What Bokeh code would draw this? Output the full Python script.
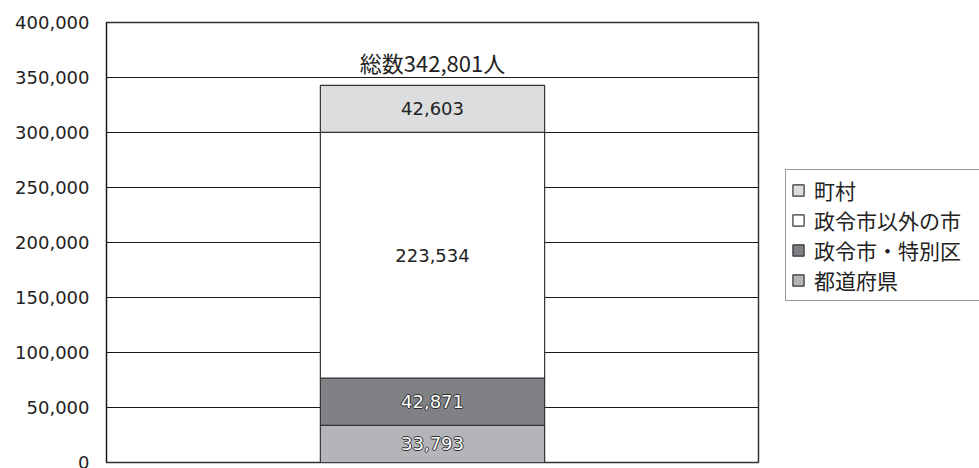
from bokeh.plotting import figure
from bokeh.layouts import row
from bokeh.models import Range1d, FixedTicker, NumeralTickFormatter, Legend, LegendItem, ColumnDataSource
from bokeh.core.properties import value
from bokeh.embed import file_html
from bokeh.resources import INLINE

categories = ["総数"]
series_names = ["都道府県", "政令市・特別区", "政令市以外の市", "町村"]
series_values = [33793, 42871, 223534, 42603]
series_colors = ["#b4b5b9", "#808185", "#ffffff", "#dcdddf"]
outlined = [True, True, False, False]
total_label = "総数342,801人"
total_value = 342801
y_ticks = [0, 50000, 100000, 150000, 200000, 250000, 300000, 350000, 400000]

p = figure(width=760, height=468, x_range=categories, y_range=Range1d(0, 400000),
           output_backend="svg", toolbar_location=None,
           min_border_left=106, min_border_right=2, min_border_top=22, min_border_bottom=6)
p.xaxis.visible = False
p.xgrid.visible = False
p.ygrid.grid_line_color = "#1a1a1a"
p.ygrid.grid_line_width = 1
p.ygrid.ticker = FixedTicker(ticks=y_ticks)
p.yaxis.ticker = FixedTicker(ticks=y_ticks)
p.yaxis.formatter = NumeralTickFormatter(format="0,0")
p.yaxis.major_tick_in = 0
p.yaxis.major_tick_out = 0
p.yaxis.minor_tick_in = 0
p.yaxis.minor_tick_out = 0
p.yaxis.major_label_standoff = 17
p.yaxis.major_label_text_font = "DejaVu Sans"
p.yaxis.major_label_text_font_size = "18px"
p.yaxis.major_label_text_color = "#222222"
p.yaxis.axis_line_color = "#111111"
p.outline_line_color = "#333333"
p.outline_line_width = 1.5

data = {"x": categories}
for name, v in zip(series_names, series_values):
    data[name] = [v]
src = ColumnDataSource(data)
rs = p.vbar_stack(series_names, x="x", width=0.344, source=src,
                  fill_color=series_colors, line_color="#333333", line_width=1.2)

# segment labels
lab_font = value("DejaVu Sans")
lab_size = "18px"
bottom = 0
for name, v, out in zip(series_names, series_values, outlined):
    mid = bottom + v / 2
    bottom += v
    txt = f"{v:,}"
    if out:
        for dx, dy in [(-1, 0), (1, 0), (0, -1), (0, 1)]:
            p.text(x=[categories[0]], y=[mid], text=[txt], x_offset=dx, y_offset=dy,
                   text_align="center", text_baseline="middle", text_color="#2a2a2a",
                   text_font=lab_font, text_font_size=lab_size)
        p.text(x=[categories[0]], y=[mid], text=[txt], text_align="center", text_baseline="middle",
               text_color="#ffffff", text_font=lab_font, text_font_size=lab_size)
    else:
        p.text(x=[categories[0]], y=[mid], text=[txt], text_align="center", text_baseline="middle",
               text_color="#222222", text_font=lab_font, text_font_size=lab_size)

p.text(x=[categories[0]], y=[total_value], text=[total_label], y_offset=-23,
       text_align="center", text_baseline="middle", text_color="#222222",
       text_font=value("Noto Sans CJK JP"), text_font_size="22px")

# legend panel (bars here fall outside its numeric range, only their legend swatches show)
p2 = figure(width=219, height=468, x_range=Range1d(0, 1), y_range=Range1d(0, 1),
            output_backend="svg", toolbar_location=None,
            min_border_left=0, min_border_right=0, min_border_top=0, min_border_bottom=0)
p2.axis.visible = False
p2.grid.visible = False
p2.outline_line_color = None
swatches = [p2.vbar(x="x", top=n, width=0.1, source=src, fill_color=c,
                    line_color="#333333", line_width=1.2)
            for n, c in zip(series_names, series_colors)]
items = [LegendItem(label=n, renderers=[r]) for n, r in zip(series_names, swatches)][::-1]
legend = Legend(items=items, location=(25, 161), margin=0, padding=5, spacing=0,
                glyph_width=14, glyph_height=14, label_height=27, label_width=175,
                label_standoff=9,
                label_text_font="Noto Sans CJK JP", label_text_font_size="21px",
                label_text_color="#222222", border_line_color="#333333", border_line_width=1,
                background_fill_alpha=1)
p2.add_layout(legend, "center")

layout = row(p, p2, spacing=0)
open("out.html", "w").write(file_html(layout, INLINE))
